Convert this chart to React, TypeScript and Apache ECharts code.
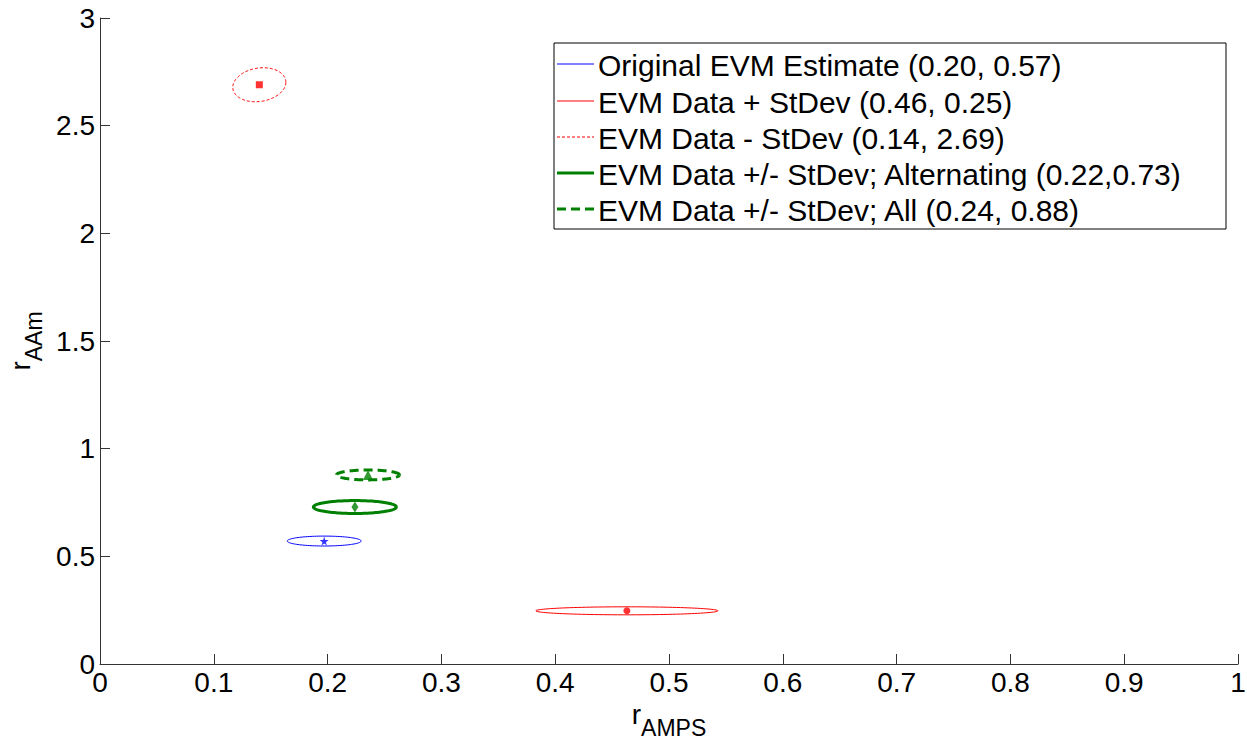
import React, { useEffect, useRef } from "react";
import * as echarts from "echarts";

const seriesNames = [
  "Original EVM Estimate (0.20, 0.57)",
  "EVM Data + StDev (0.46, 0.25)",
  "EVM Data - StDev (0.14, 2.69)",
  "EVM Data +/- StDev; Alternating (0.22,0.73)",
  "EVM Data +/- StDev; All (0.24, 0.88)",
];
const centerX = [0.197, 0.463, 0.14, 0.224, 0.2355];
const centerY = [0.571, 0.247, 2.69, 0.729, 0.878];
const radiusX = [0.0325, 0.08, 0.0233, 0.0365, 0.0277];
const radiusY = [0.023, 0.0186, 0.079, 0.03, 0.023];
const tilt = [0, 0, 0.15, 0, 0];

const xTicks = ["0", "0.1", "0.2", "0.3", "0.4", "0.5", "0.6", "0.7", "0.8", "0.9", "1"];
const yTicks = ["0", "0.5", "1", "1.5", "2", "2.5", "3"];

const colors = ["#0000ff", "#ff0000", "#ff0000", "#008000", "#008000"];
const widths = [1, 1, 1, 3, 3];
const dashes: (number[] | null)[] = [null, null, [3, 2], null, [9, 5]];
const symbols = [
  "path://M50,0 L61,35 L98,35 L68,57 L79,91 L50,70 L21,91 L32,57 L2,35 L39,35 Z",
  "circle",
  "rect",
  "diamond",
  "triangle",
];
const symbolSizes: any[] = [9, 7, 7, [7, 11], 10];

export default function App() {
  const ref = useRef<HTMLDivElement>(null);
  useEffect(() => {
    const chart = echarts.init(ref.current!, null, { renderer: "svg" });
    const FONT = "Liberation Sans, Arial, sans-serif";

    const ellipseSeries = seriesNames.map((name, i) => ({
      type: "custom",
      name,
      data: [[centerX[i], centerY[i], radiusX[i], radiusY[i], tilt[i]]],
      renderItem: (params: any, api: any) => {
        const cx = api.value(0);
        const cy = api.value(1);
        const rx = api.value(2);
        const ry = api.value(3);
        const ph = api.value(4);
        const pts: number[][] = [];
        const N = 120;
        for (let k = 0; k <= N; k++) {
          const t = (k / N) * Math.PI * 2;
          pts.push(api.coord([cx + rx * Math.cos(t), cy + ry * Math.sin(t + ph)]));
        }
        return {
          type: "polyline",
          shape: { points: pts },
          style: {
            stroke: colors[i],
            lineWidth: widths[i],
            lineDash: dashes[i] || undefined,
            fill: "none",
          },
        };
      },
      silent: true,
      z: 2,
    }));

    const markerSeries = seriesNames.map((name, i) => ({
      type: "scatter",
      name: name + " center",
      data: [[centerX[i], centerY[i]]],
      symbol: symbols[i],
      symbolSize: symbolSizes[i],
      itemStyle: { color: colors[i] },
      silent: true,
      z: 3,
    }));

    const lx = 554, ly = 43, lw = 672, lh = 186;
    const rowY = [64, 101, 137, 173, 209];
    const legendChildren: any[] = [
      {
        type: "rect",
        shape: { x: lx, y: ly, width: lw, height: lh },
        style: { fill: "#fff", stroke: "#000", lineWidth: 1 },
      },
    ];
    seriesNames.forEach((name, i) => {
      legendChildren.push({
        type: "line",
        shape: { x1: 557, y1: rowY[i], x2: 594, y2: rowY[i] },
        style: {
          stroke: colors[i],
          lineWidth: widths[i],
          lineDash: dashes[i] || undefined,
        },
      });
      legendChildren.push({
        type: "text",
        x: 598,
        y: rowY[i] + 1,
        style: {
          text: name,
          fill: "#000",
          font: `30px ${FONT}`,
          verticalAlign: "middle",
        },
      });
    });

    const nameStyle = {
      color: "#000",
      fontSize: 28,
      fontFamily: FONT,
      rich: {
        sub: { fontSize: 23, fontFamily: FONT, color: "#000", padding: [27, 0, 0, 0] },
      },
    };

    chart.setOption({
      animation: false,
      backgroundColor: "#fff",
      grid: {
        left: 100,
        right: 9,
        top: 18,
        bottom: 76,
        containLabel: false,
        outerBoundsMode: "none",
      },
      xAxis: {
        type: "value",
        min: 0,
        max: 1,
        interval: 0.1,
        name: "r{sub|AMPS}",
        nameLocation: "middle",
        nameGap: 19,
        nameTextStyle: nameStyle,
        axisLine: { show: true, lineStyle: { color: "#333", width: 1 } },
        axisTick: { show: true, inside: true, length: 10, lineStyle: { color: "#333" } },
        axisLabel: {
          color: "#000",
          fontSize: 28,
          fontFamily: FONT,
          margin: 4,
          formatter: (v: number) => xTicks[Math.round(v * 10)] ?? "",
        },
        splitLine: { show: false },
      },
      yAxis: {
        type: "value",
        min: 0,
        max: 3,
        interval: 0.5,
        name: "r{sub|AAm}",
        nameLocation: "middle",
        nameGap: 54,
        nameRotate: 90,
        nameTextStyle: nameStyle,
        axisLine: { show: true, lineStyle: { color: "#333", width: 1 } },
        axisTick: { show: true, inside: true, length: 10, lineStyle: { color: "#333" } },
        axisLabel: {
          color: "#000",
          fontSize: 28,
          fontFamily: FONT,
          margin: 5,
          formatter: (v: number) => yTicks[Math.round(v * 2)] ?? "",
        },
        splitLine: { show: false },
      },
      series: [...ellipseSeries, ...markerSeries],
      graphic: [{ type: "group", children: legendChildren, z: 100 }],
    });
    return () => chart.dispose();
  }, []);
  return (
    <div
      ref={ref}
      style={{ position: "fixed", left: 0, top: 0, width: 1247, height: 740 }}
    />
  );
}
